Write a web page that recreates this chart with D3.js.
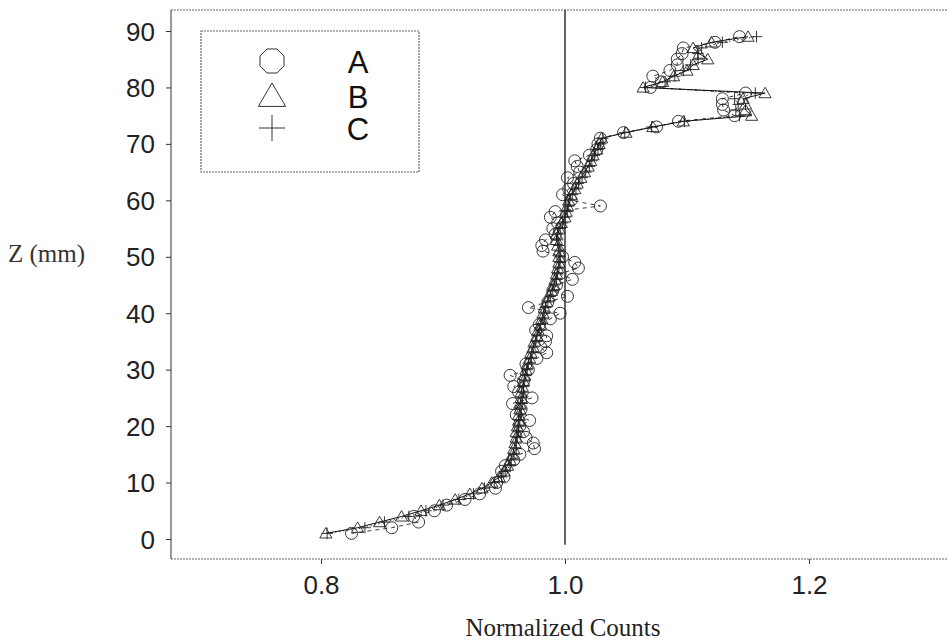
<!DOCTYPE html>
<html>
<head>
<meta charset="utf-8">
<script src="https://cdn.jsdelivr.net/npm/d3@7"></script>
<style>
  body { margin: 0; background: #fff; }
  svg { display: block; }
</style>
</head>
<body>
<script>
var width = 948,
    height = 641;

// depth of each sample (mm)
var depths = [1,2,3,4,5,6,7,8,9,10,11,12,13,14,15,16,17,18,19,20,
  21,22,23,24,25,26,27,28,29,30,31,32,33,34,35,36,37,38,39,40,
  41,42,43,44,45,46,47,48,49,50,51,52,53,54,55,56,57,58,59,60,
  61,62,63,64,65,66,67,68,69,70,71,72,73,74,75,76,77,78,79,80,
  81,82,83,84,85,86,87,88,89];

var seriesA = [0.825,0.858,0.880,0.876,0.893,0.903,0.918,0.930,0.943,0.944,
  0.950,0.948,0.951,0.958,0.963,0.975,0.974,0.968,0.966,0.963,
  0.971,0.960,0.964,0.957,0.973,0.962,0.958,0.966,0.955,0.970,
  0.968,0.977,0.985,0.980,0.984,0.985,0.976,0.979,0.988,0.996,
  0.970,0.986,1.002,0.990,0.993,1.006,0.996,1.011,1.008,0.998,
  0.982,0.981,0.984,0.992,0.990,0.994,0.988,0.992,1.029,1.005,
  0.998,1.003,1.007,1.002,1.012,1.010,1.008,1.020,1.026,1.027,
  1.029,1.048,1.075,1.093,1.139,1.130,1.129,1.129,1.148,1.070,
  1.079,1.072,1.086,1.092,1.092,1.096,1.097,1.123,1.143];

var seriesB = [0.804,0.830,0.848,0.866,0.882,0.897,0.910,0.922,0.932,0.940,
  0.946,0.950,0.953,0.955,0.957,0.958,0.959,0.960,0.960,0.961,
  0.962,0.962,0.963,0.963,0.964,0.964,0.965,0.966,0.967,0.968,
  0.969,0.971,0.972,0.974,0.975,0.977,0.978,0.980,0.981,0.982,
  0.983,0.985,0.987,0.989,0.991,0.992,0.993,0.994,0.995,0.995,
  0.995,0.994,0.993,0.993,0.995,0.997,1.000,1.001,1.002,1.003,
  1.005,1.008,1.010,1.013,1.016,1.019,1.021,1.023,1.026,1.028,
  1.030,1.050,1.072,1.097,1.153,1.148,1.148,1.146,1.164,1.064,
  1.080,1.089,1.100,1.105,1.117,1.110,1.105,1.120,1.150];

var seriesC = [0.805,0.836,0.852,0.872,0.886,0.900,0.913,0.925,0.934,0.942,
  0.948,0.951,0.955,0.956,0.958,0.960,0.960,0.961,0.962,0.962,
  0.963,0.964,0.964,0.965,0.965,0.966,0.966,0.967,0.968,0.969,
  0.970,0.972,0.973,0.974,0.976,0.977,0.979,0.980,0.982,0.983,
  0.984,0.986,0.988,0.990,0.991,0.993,0.994,0.995,0.996,0.996,
  0.996,0.995,0.994,0.994,0.996,0.998,1.000,1.002,1.003,1.004,
  1.006,1.009,1.011,1.014,1.017,1.020,1.022,1.024,1.027,1.029,
  1.031,1.049,1.071,1.098,1.143,1.140,1.142,1.139,1.156,1.066,
  1.082,1.090,1.097,1.103,1.109,1.109,1.112,1.129,1.157];

var seriesNames = ["A", "B", "C"];
var xTicks = [0.8, 1.0, 1.2];
var yTicks = [0, 10, 20, 30, 40, 50, 60, 70, 80, 90];
var refValue = 1.0;

var plotLeft = 171, plotRight = 948, plotTop = 10, plotBottom = 559;

var svg = d3.select("body").append("svg")
    .attr("width", width)
    .attr("height", height);

var x = d3.scaleLinear().domain([0.8, 1.2]).range([321, 809]);
var y = d3.scaleLinear().domain([0, 90]).range([539, 31]);

function rows(values)
{
  return values.map(function(v, i){ return {"z": depths[i], "v": v}; });
}

// frame: dotted top and bottom, solid left
svg.append("line")
    .attr("x1", plotLeft).attr("x2", plotRight)
    .attr("y1", plotTop).attr("y2", plotTop)
    .attr("stroke", "#666").attr("stroke-width", 1.2)
    .attr("stroke-dasharray", "2,1");

svg.append("line")
    .attr("x1", plotLeft).attr("x2", plotRight)
    .attr("y1", plotBottom).attr("y2", plotBottom)
    .attr("stroke", "#666").attr("stroke-width", 1.2)
    .attr("stroke-dasharray", "2,1");

svg.append("line")
    .attr("x1", plotLeft).attr("x2", plotLeft)
    .attr("y1", plotTop).attr("y2", plotBottom)
    .attr("stroke", "#333").attr("stroke-width", 1);

var yAxis = svg.append("g")
    .attr("transform", "translate(" + plotLeft + ",0)")
    .call(d3.axisLeft(y).tickValues(yTicks).tickSize(5).tickPadding(11));

var xAxis = svg.append("g")
    .attr("transform", "translate(0," + plotBottom + ")")
    .call(d3.axisBottom(x).tickValues(xTicks).tickSize(5).tickPadding(9)
      .tickFormat(d3.format(".1f")));

svg.selectAll(".domain").remove();
svg.selectAll(".tick line").attr("stroke", "#333");
svg.selectAll(".tick text")
    .attr("font-family", "'Liberation Sans', Arial, sans-serif")
    .attr("font-size", 26)
    .attr("fill", "#222");
yAxis.selectAll(".tick text").attr("dy", "0.35em");
xAxis.selectAll(".tick text").attr("dy", "0.8em");

// reference line at 1.0
svg.append("line")
    .attr("x1", x(refValue)).attr("x2", x(refValue))
    .attr("y1", plotTop).attr("y2", y(-1))
    .attr("stroke", "#111").attr("stroke-width", 1.3);

var line = d3.line()
    .x(function(d){ return x(d.v); })
    .y(function(d){ return y(d.z); });

var g = svg.append("g");

g.append("path").datum(rows(seriesA))
    .attr("d", line).attr("fill", "none")
    .attr("stroke", "#222").attr("stroke-width", 0.9)
    .attr("stroke-dasharray", "4,4");

g.append("path").datum(rows(seriesC))
    .attr("d", line).attr("fill", "none")
    .attr("stroke", "#222").attr("stroke-width", 0.9)
    .attr("stroke-dasharray", "1.5,2.5");

g.append("path").datum(rows(seriesB))
    .attr("d", line).attr("fill", "none")
    .attr("stroke", "#111").attr("stroke-width", 1);

function trianglePath(s)
{
  return "M 0," + (-s) + " L " + (s * 1.05) + "," + (s * 0.8) + " L " + (-s * 1.05) + "," + (s * 0.8) + " Z";
}

function plusPath(s)
{
  return "M " + (-s) + ",0 H " + s + " M 0," + (-s) + " V " + s;
}

function octagonPath(r)
{
  var pts = [];
  for(var i = 0; i < 8; i++)
  {
    var a = Math.PI / 8 + i * Math.PI / 4;
    pts.push((r * Math.cos(a)).toFixed(2) + "," + (r * Math.sin(a)).toFixed(2));
  }
  return "M " + pts.join(" L ") + " Z";
}

g.selectAll("circle.a")
    .data(rows(seriesA))
    .enter().append("circle")
      .attr("class", "a")
      .attr("cx", function(d){ return x(d.v); })
      .attr("cy", function(d){ return y(d.z); })
      .attr("r", 6)
      .attr("fill", "none")
      .attr("stroke", "#222")
      .attr("stroke-width", 0.9);

g.selectAll("path.b")
    .data(rows(seriesB))
    .enter().append("path")
      .attr("class", "b")
      .attr("transform", function(d){ return "translate(" + x(d.v) + "," + y(d.z) + ")"; })
      .attr("d", trianglePath(5.8))
      .attr("fill", "none")
      .attr("stroke", "#222")
      .attr("stroke-width", 0.9);

g.selectAll("path.c")
    .data(rows(seriesC))
    .enter().append("path")
      .attr("class", "c")
      .attr("transform", function(d){ return "translate(" + x(d.v) + "," + y(d.z) + ")"; })
      .attr("d", plusPath(5.8))
      .attr("fill", "none")
      .attr("stroke", "#222")
      .attr("stroke-width", 0.9);

// legend
var legend = svg.append("g");

legend.append("rect")
    .attr("x", 201).attr("y", 31)
    .attr("width", 218).attr("height", 141)
    .attr("fill", "#fff")
    .attr("stroke", "#666").attr("stroke-width", 1.2)
    .attr("stroke-dasharray", "2,1");

var legendShapes = [octagonPath(13), trianglePath(13), plusPath(13)];
var legendY = [61, 96, 128];

legend.selectAll("path.sym")
    .data(seriesNames)
    .enter().append("path")
      .attr("class", "sym")
      .attr("transform", function(d, i){ return "translate(272," + legendY[i] + ")"; })
      .attr("d", function(d, i){ return legendShapes[i]; })
      .attr("fill", "none")
      .attr("stroke", "#333")
      .attr("stroke-width", 1);

legend.selectAll("text")
    .data(seriesNames)
    .enter().append("text")
      .attr("x", 358)
      .attr("y", function(d, i){ return legendY[i] + 12; })
      .attr("text-anchor", "middle")
      .attr("font-family", "'Liberation Sans', Arial, sans-serif")
      .attr("font-size", 31)
      .attr("fill", "#111")
      .text(function(d){ return d; });

// axis titles
svg.append("text")
    .attr("x", 8)
    .attr("y", 262)
    .attr("font-family", "'Liberation Serif', 'Times New Roman', serif")
    .attr("font-size", 25)
    .attr("fill", "#333")
    .text("Z (mm)");

svg.append("text")
    .attr("x", 563)
    .attr("y", 636)
    .attr("text-anchor", "middle")
    .attr("font-family", "'Liberation Serif', 'Times New Roman', serif")
    .attr("font-size", 25)
    .attr("fill", "#222")
    .text("Normalized Counts");
</script>
</body>
</html>
